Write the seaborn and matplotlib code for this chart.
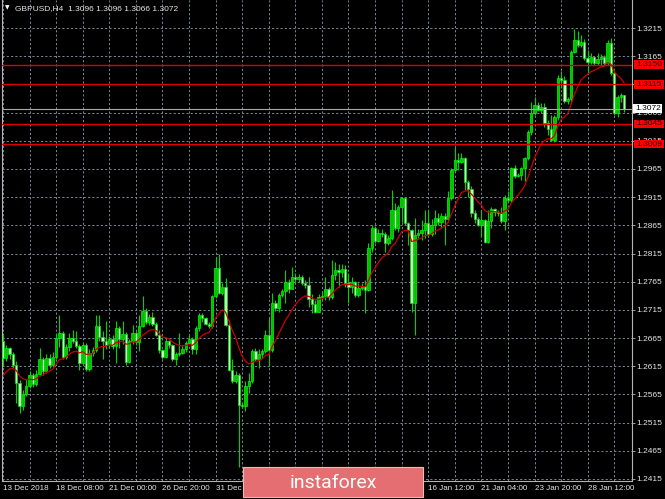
import numpy as np
import pandas as pd
import matplotlib
matplotlib.use("Agg")
import matplotlib.pyplot as plt
import matplotlib.transforms as mtransforms
from matplotlib.patches import Rectangle
import seaborn as sns

# ---------------- data ----------------
chart_title = "GBPUSD,H4  1.3096 1.3096 1.3066 1.3072"
first_open = 1.2659
closes = [
    1.2630, 1.2647, 1.2636, 1.2618, 1.2586, 1.2545, 1.2565, 1.2580, 1.2600, 1.2584,
    1.2602, 1.2628, 1.2606, 1.2630, 1.2618, 1.2632, 1.2665, 1.2674, 1.2632, 1.2650,
    1.2665, 1.2660, 1.2651, 1.2621, 1.2653, 1.2610, 1.2638, 1.2644, 1.2686, 1.2667,
    1.2660, 1.2652, 1.2664, 1.2651, 1.2682, 1.2663, 1.2672, 1.2622, 1.2660, 1.2674,
    1.2658, 1.2686, 1.2713, 1.2694, 1.2703, 1.2690, 1.2671, 1.2643, 1.2631, 1.2660,
    1.2652, 1.2627, 1.2636, 1.2638, 1.2645, 1.2656, 1.2663, 1.2645, 1.2683, 1.2706,
    1.2700, 1.2690, 1.2686, 1.2739, 1.2789, 1.2745, 1.2756, 1.2689, 1.2609, 1.2589,
    1.2600, 1.2547, 1.2544, 1.2580, 1.2589, 1.2642, 1.2627, 1.2636, 1.2642, 1.2670,
    1.2643, 1.2727, 1.2718, 1.2741, 1.2748, 1.2765, 1.2752, 1.2774, 1.2769, 1.2773,
    1.2763, 1.2759, 1.2734, 1.2725, 1.2712, 1.2737, 1.2740, 1.2752, 1.2737, 1.2777,
    1.2786, 1.2783, 1.2787, 1.2762, 1.2756, 1.2764, 1.2741, 1.2754, 1.2757, 1.2750,
    1.2824, 1.2860, 1.2838, 1.2852, 1.2850, 1.2834, 1.2842, 1.2892, 1.2861, 1.2898,
    1.2913, 1.2869, 1.2856, 1.2727, 1.2848, 1.2852, 1.2856, 1.2869, 1.2849, 1.2866,
    1.2878, 1.2870, 1.2882, 1.2876, 1.2913, 1.2963, 1.2981, 1.2978, 1.2984, 1.2941,
    1.2930, 1.2887, 1.2877, 1.2866, 1.2875, 1.2836, 1.2872, 1.2894, 1.2889, 1.2886,
    1.2872, 1.2913, 1.2910, 1.2966, 1.2952, 1.2955, 1.2966, 1.2984, 1.3031, 1.3064,
    1.3078, 1.3070, 1.3075, 1.3047, 1.3036, 1.3017, 1.3058, 1.3126, 1.3122, 1.3085,
    1.3089, 1.3173, 1.3194, 1.3185, 1.3190, 1.3161, 1.3155, 1.3164, 1.3153, 1.3160,
    1.3164, 1.3153, 1.3188, 1.3136, 1.3065, 1.3093, 1.3096, 1.3072,
]
highs = [
    1.2674, 1.2652, 1.2650, 1.2640, 1.2625, 1.2590, 1.2572, 1.2592, 1.2606, 1.2603,
    1.2608, 1.2647, 1.2632, 1.2636, 1.2636, 1.2640, 1.2674, 1.2706, 1.2677, 1.2655,
    1.2674, 1.2680, 1.2677, 1.2655, 1.2658, 1.2656, 1.2645, 1.2650, 1.2706, 1.2706,
    1.2677, 1.2695, 1.2668, 1.2670, 1.2695, 1.2686, 1.2695, 1.2675, 1.2664, 1.2689,
    1.2677, 1.2706, 1.2739, 1.2718, 1.2708, 1.2712, 1.2693, 1.2680, 1.2646, 1.2665,
    1.2662, 1.2655, 1.2640, 1.2674, 1.2652, 1.2660, 1.2671, 1.2667, 1.2686, 1.2709,
    1.2709, 1.2702, 1.2694, 1.2742, 1.2809, 1.2815, 1.2762, 1.2771, 1.2697, 1.2627,
    1.2606, 1.2603, 1.2550, 1.2589, 1.2603, 1.2645, 1.2648, 1.2645, 1.2646, 1.2679,
    1.2700, 1.2745, 1.2732, 1.2745, 1.2752, 1.2786, 1.2770, 1.2791, 1.2780, 1.2778,
    1.2777, 1.2768, 1.2774, 1.2744, 1.2733, 1.2744, 1.2748, 1.2774, 1.2755, 1.2803,
    1.2800, 1.2797, 1.2797, 1.2795, 1.2780, 1.2774, 1.2766, 1.2762, 1.2763, 1.2768,
    1.2833, 1.2866, 1.2863, 1.2858, 1.2858, 1.2854, 1.2848, 1.2928, 1.2904, 1.2901,
    1.2916, 1.2916, 1.2871, 1.2858, 1.2878, 1.2858, 1.2874, 1.2892, 1.2892, 1.2876,
    1.2892, 1.2886, 1.2887, 1.2886, 1.2925, 1.2966, 1.3004, 1.2993, 1.2993, 1.2986,
    1.2946, 1.2934, 1.2893, 1.2880, 1.2892, 1.2876, 1.2892, 1.2898, 1.2896, 1.2892,
    1.2898, 1.2919, 1.2925, 1.2969, 1.2972, 1.2958, 1.2969, 1.2987, 1.3034, 1.3084,
    1.3093, 1.3084, 1.3082, 1.3082, 1.3052, 1.3061, 1.3061, 1.3132, 1.3138, 1.3129,
    1.3092, 1.3176, 1.3214, 1.3209, 1.3203, 1.3195, 1.3176, 1.3170, 1.3166, 1.3170,
    1.3168, 1.3167, 1.3194, 1.3197, 1.3138, 1.3096, 1.3100, 1.3096,
]
lows = [
    1.2615, 1.2625, 1.2628, 1.2612, 1.2550, 1.2532, 1.2538, 1.2562, 1.2576, 1.2578,
    1.2580, 1.2598, 1.2600, 1.2603, 1.2612, 1.2614, 1.2628, 1.2650, 1.2627, 1.2628,
    1.2642, 1.2656, 1.2648, 1.2609, 1.2618, 1.2606, 1.2606, 1.2634, 1.2641, 1.2660,
    1.2627, 1.2645, 1.2648, 1.2646, 1.2621, 1.2648, 1.2655, 1.2617, 1.2620, 1.2655,
    1.2652, 1.2642, 1.2684, 1.2690, 1.2688, 1.2686, 1.2668, 1.2639, 1.2628, 1.2630,
    1.2648, 1.2624, 1.2618, 1.2633, 1.2636, 1.2640, 1.2655, 1.2636, 1.2636, 1.2677,
    1.2694, 1.2688, 1.2683, 1.2683, 1.2736, 1.2744, 1.2742, 1.2686, 1.2606, 1.2585,
    1.2586, 1.2436, 1.2541, 1.2536, 1.2568, 1.2586, 1.2624, 1.2612, 1.2630, 1.2638,
    1.2615, 1.2640, 1.2713, 1.2712, 1.2738, 1.2727, 1.2745, 1.2763, 1.2762, 1.2764,
    1.2760, 1.2754, 1.2720, 1.2709, 1.2709, 1.2711, 1.2733, 1.2733, 1.2733, 1.2735,
    1.2768, 1.2756, 1.2774, 1.2756, 1.2727, 1.2745, 1.2738, 1.2738, 1.2750, 1.2709,
    1.2748, 1.2818, 1.2833, 1.2835, 1.2844, 1.2818, 1.2830, 1.2839, 1.2857, 1.2854,
    1.2871, 1.2866, 1.2830, 1.2712, 1.2671, 1.2843, 1.2839, 1.2842, 1.2845, 1.2846,
    1.2850, 1.2865, 1.2860, 1.2830, 1.2871, 1.2910, 1.2960, 1.2963, 1.2975, 1.2928,
    1.2916, 1.2880, 1.2869, 1.2863, 1.2845, 1.2833, 1.2833, 1.2860, 1.2882, 1.2881,
    1.2869, 1.2857, 1.2907, 1.2906, 1.2949, 1.2950, 1.2946, 1.2943, 1.2981, 1.3026,
    1.3061, 1.3067, 1.3064, 1.3040, 1.3025, 1.3014, 1.3013, 1.3052, 1.3108, 1.3082,
    1.3080, 1.3081, 1.3170, 1.3182, 1.3182, 1.3158, 1.3135, 1.3152, 1.3150, 1.3150,
    1.3148, 1.3150, 1.3150, 1.3132, 1.3061, 1.3058, 1.3084, 1.3066,
]
ma_seed = 1.2592          # moving-average value just before the first visible bar
ma_span = 12
level_prices = [1.3150, 1.3115, 1.3045, 1.3009]
level_labels = ["1.3150", "1.3115", "1.3045", "1.3009"]
current_price = 1.3072
current_label = "1.3072"
price_ticks = [1.2415, 1.2465, 1.2515, 1.2565, 1.2615, 1.2665, 1.2715, 1.2765, 1.2815,
               1.2865, 1.2915, 1.2965, 1.3015, 1.3065, 1.3115, 1.3165, 1.3215]
price_tick_labels = ["1.2415", "1.2465", "1.2515", "1.2565", "1.2615", "1.2665", "1.2715",
                     "1.2765", "1.2815", "1.2865", "1.2915", "1.2965", "1.3015", "1.3065",
                     "", "1.3165", "1.3215"]
time_tick_bars = [0, 16, 32, 48, 64, 128, 144, 160, 176]
time_tick_labels = ["13 Dec 2018", "18 Dec 08:00", "21 Dec 00:00", "26 Dec 20:00",
                    "31 Dec 12:00", "16 Jan 12:00", "21 Jan 04:00", "23 Jan 20:00",
                    "28 Jan 12:00"]
grid_bars = list(range(0, 190, 8))
watermark = "instaforex"

# ---------------- style ----------------
sns.set_style("dark")
plt.rcParams['font.family'] = ['Liberation Sans', 'DejaVu Sans']
W, H = 665, 499
fg = '#e6e6e6'
axis_col = '#b4b4b4'
grid_col = '#778899'
fs = 6.0

fig = plt.figure(figsize=(W / 100, H / 100), dpi=100, facecolor='black')
ax = fig.add_axes([2 / W, 1 - 481 / H, 630 / W, 481 / H])
ax.set_facecolor('black')

opens = [first_open] + closes[:-1]
df = pd.DataFrame({'bar': np.arange(len(closes)), 'open': opens, 'high': highs,
                   'low': lows, 'close': closes})
df['ma'] = pd.Series([ma_seed] + closes).ewm(span=ma_span, adjust=False).mean().iloc[1:].values
bull = df['close'] >= df['open']
bottoms = np.minimum(df['open'], df['close'])
heights = np.maximum((df['close'] - df['open']).abs(), 0.00006)

# wicks
ax.vlines(df['bar'], df['low'], df['high'], color='#00d400', lw=0.8, zorder=3)
# bodies
ax.bar(df['bar'][bull], heights[bull], bottom=bottoms[bull], width=0.7,
       color='#00c000', edgecolor='#00ff00', linewidth=0.5, zorder=4)
ax.bar(df['bar'][~bull], heights[~bull], bottom=bottoms[~bull], width=0.7,
       color='#c8ffc8', edgecolor='#00e600', linewidth=0.5, zorder=4)

# moving average
sns.lineplot(x=df['bar'], y=df['ma'], ax=ax, color='#cc0000', linewidth=0.9,
             zorder=5, legend=False)

# horizontal levels
for p in level_prices:
    ax.axhline(p, color='#e00000', lw=1.0, zorder=6)
ax.axhline(current_price, color='#a8a8a8', lw=0.8, zorder=6)

# limits
ax.set_xlim(-0.3, 189.35)
ax.set_ylim(1.241145, 1.326467)

# grid / ticks
ax.set_axisbelow(True)
ax.set_xticks(time_tick_bars)
ax.set_xticklabels(time_tick_labels)
ax.set_xticks(grid_bars, minor=True)
ax.yaxis.tick_right()
ax.set_yticks(price_ticks)
ax.set_yticklabels(price_tick_labels)
ax.grid(True, which='both', axis='x', color=grid_col, ls=(0, (2.2, 2.2)), lw=0.7)
ax.grid(True, which='major', axis='y', color=grid_col, ls=(0, (2.2, 2.2)), lw=0.7)
ax.set_xlabel('')
ax.set_ylabel('')

ax.tick_params(axis='x', which='both', direction='out', length=2.3, width=0.6,
               color=axis_col, labelcolor=fg, labelsize=fs - 0.2, pad=0.8)
ax.tick_params(axis='y', which='major', direction='out', length=2.3, width=0.6,
               color=axis_col, labelcolor=fg, labelsize=fs, pad=1.0,
               left=False, right=True)
for lab in ax.get_xticklabels():
    lab.set_horizontalalignment('left')

for side in ['left', 'right', 'bottom']:
    ax.spines[side].set_color(axis_col)
    ax.spines[side].set_linewidth(0.8)
    ax.spines[side].set_visible(True)
ax.spines['top'].set_visible(False)

# price label boxes on the right scale
trans = mtransforms.blended_transform_factory(fig.transFigure, ax.transData)
box_h = 8.5 / (481 / (1.326467 - 1.241145))
for p, lab in zip(level_prices, level_labels):
    ax.add_patch(Rectangle((634 / W, p - box_h / 2), 30 / W, box_h, transform=trans,
                           facecolor='#ff0000', edgecolor='none', clip_on=False, zorder=10))
    ax.text(636 / W, p, lab, transform=trans, fontsize=fs, color='#200000',
            va='center', ha='left', clip_on=False, zorder=11)
ax.add_patch(Rectangle((633 / W, current_price - box_h / 2), 29 / W, box_h, transform=trans,
                       facecolor='white', edgecolor='none', clip_on=False, zorder=10))
ax.text(635 / W, current_price, current_label, transform=trans, fontsize=fs,
        color='black', va='center', ha='left', clip_on=False, zorder=11)

# title
fig.text(5 / W, 1 - 8 / H, '\u25bc', fontsize=4.2, color='white', va='center', ha='left',
         family=['DejaVu Sans'])
fig.text(15 / W, 1 - 8.5 / H, chart_title, fontsize=fs, color=fg, va='center', ha='left')

# watermark
fig.add_artist(Rectangle((243 / W, 2 / H), 180 / W, (499 - 467 - 2) / H,
                         transform=fig.transFigure, facecolor='#e46e72',
                         edgecolor='#f2b8b8', linewidth=0.8, zorder=20))
fig.text(333 / W, 1 - 483 / H, watermark, fontsize=14, color='white', ha='center',
         va='center', family=['Roboto', 'DejaVu Sans'], zorder=21)

fig.savefig('out.png', dpi=100, facecolor='black')
